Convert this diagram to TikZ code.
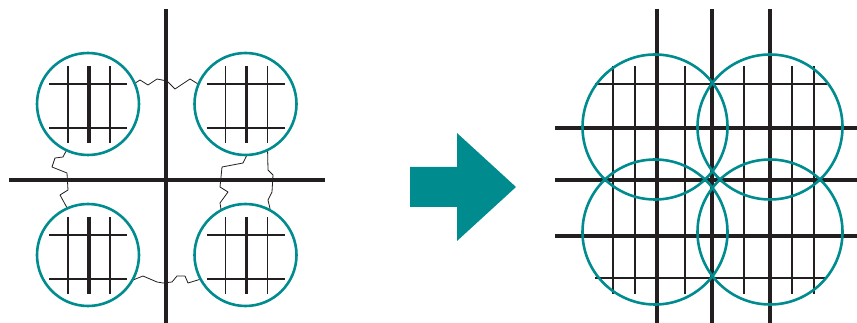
\documentclass[tikz,border=0pt]{standalone}
\usetikzlibrary{positioning}
\definecolor{tealc}{RGB}{0,140,143}
\definecolor{inkc}{RGB}{35,31,32}

\begin{document}
\begin{tikzpicture}[x=1pt, y=-1pt,
    lens/.style={draw=tealc, circle, line width=2.6pt, inner sep=0pt, minimum size=102pt},
    biglens/.style={lens, minimum size=145pt},
    axis/.style={draw=inkc, line width=4pt},
    bar/.style={draw=inkc, line width=3.6pt},
    fine/.style={draw=inkc, line width=1.3pt},
    wire/.style={draw=inkc, line width=0.8pt, line join=round}]
    \useasboundingbox (0,0) rectangle (857,323);

    % left: four separate lenses
    \draw[axis] (166,9) -- (166,323);
    \draw[axis] (9,180) -- (325,180);
    \node[lens] (tl) at (88,104) {};
    \node[lens] (tr) at (245.5,104) {};
    \node[lens] (bl) at (88,255) {};
    \node[lens] (br) at (245.5,255) {};
    \foreach \c in {tl,tr,bl,br} {
        \begin{scope}[shift={(\c)}]
            \draw[fine] (-20,-38) -- (-20,39);
            \draw[fine] (22,-38) -- (22,39);
            \draw[bar] (1,-38) -- (1,39);
            \draw[fine] (-39,-20) -- (39,-20);
            \draw[fine] (-39,24) -- (39,24);
        \end{scope}
    }
    \draw[wire] (tl.24) -- (140,80) -- (148,85) -- (157,79) -- (167,81) -- (175,89) -- (190,79) -- (tr.157);
    \draw[wire] (bl.-28) -- (143,276) -- (157,282) -- (163,283) -- (172,282) -- (177,276) -- (185,276) -- (188,283) -- (br.208);
    \draw[wire] (tl.-115) -- (63,157) -- (55,158) -- (52,167) -- (67,173) -- (68,190) -- (60,195) -- (bl.114);
    \draw[wire] (tr.-89) -- (243,163) -- (222,167) -- (220,187) -- (228,192) -- (220,203) -- (br.118);
    \draw[wire] (tr.-65) -- (268,170) -- (273,175) -- (272,192) -- (268,200) -- (br.62);

    % arrow
    \fill[tealc] (410,167) -- (457,167) -- (457,133) -- (516,187) -- (457,241) -- (457,207) -- (410,207) -- cycle;

    % right: overlapping lenses
    \foreach \x in {613,635,685,744,792,814}
        \draw[fine] (\x,66) -- (\x,294);
    \foreach \y in {84,278}
        \draw[fine] (595,\y) -- (827,\y);
    \foreach \x in {657,712,770}
        \draw[axis] (\x,9) -- (\x,323);
    \foreach \y in {128,180,236}
        \draw[axis] (555,\y) -- (857,\y);
    \node[biglens] (ul) at (655,127) {};
    \node[biglens] (ur) at (770,127) {};
    \node[biglens] (dl) at (655,232) {};
    \node[biglens] (dr) at (770,232) {};
\end{tikzpicture}
\end{document}
